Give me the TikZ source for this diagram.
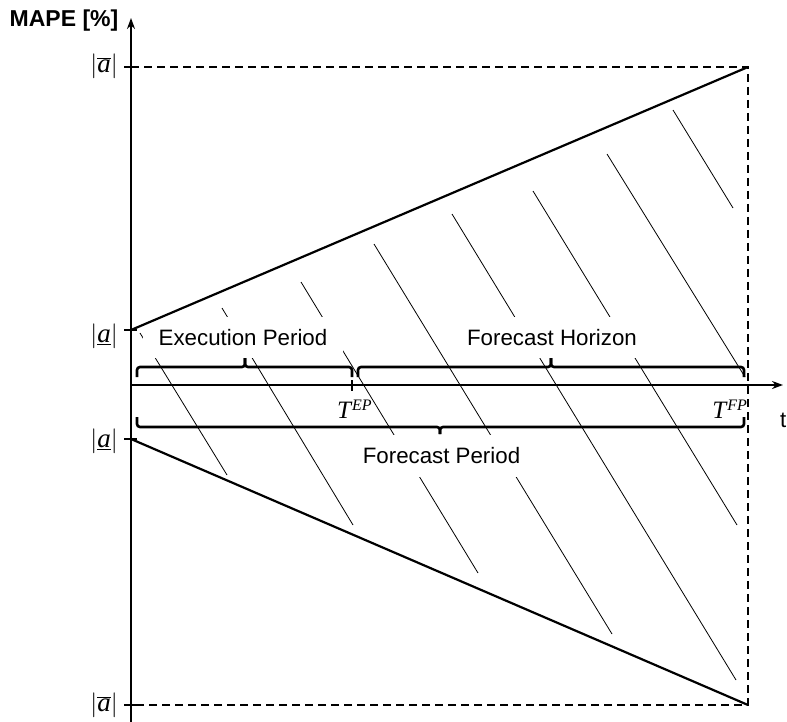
\documentclass[tikz,border=0pt]{standalone}
\usepackage{fontspec}
\setmainfont{Liberation Sans}
\newfontfamily\tms{Liberation Serif}
\usetikzlibrary{arrows.meta}
\begin{document}
\begin{tikzpicture}[x=1pt,y=-1pt,
  hatch/.style={line width=0.8pt},
  mainline/.style={line width=2.2pt},
  axisline/.style={line width=2pt,-{Stealth[length=11pt,width=8pt]}},
  dashline/.style={line width=1.8pt,dash pattern=on 8pt off 5pt},
  bracepath/.style={line width=2.6pt,rounded corners=3pt},
  lbl/.style={font=\fontsize{22.3}{26}\selectfont},
  gapbox/.style={fill=white,inner sep=0pt,lbl},
  mlbl/.style={font=\fontsize{25}{28}\selectfont\tms\itshape},
  albl/.style={font=\fontsize{27}{30}\selectfont\tms\itshape},
  tickmark/.style={line width=2.5pt}
]
\useasboundingbox (0,0) rectangle (787,722);
% hatch lines
\draw[hatch] (140,333) -- (227,475);
\draw[hatch] (222,308) -- (353,525);
\draw[hatch] (301,282) -- (478,573);
\draw[hatch] (374,244) -- (612,634);
\draw[hatch] (452,214) -- (736,680);
\draw[hatch] (533,191) -- (737,525);
\draw[hatch] (607,154) -- (745,377);
\draw[hatch] (673,110) -- (733,208);
% text boxes (white) interrupting hatch
\node[gapbox, minimum width=200pt, minimum height=41pt] (ep) at (243,337.5) {Execution Period};
\node[gapbox, minimum width=214pt, minimum height=41pt] (fh) at (552,337.5) {Forecast Horizon};
\node[gapbox, minimum width=200pt, minimum height=42pt] (fp) at (441.5,455.5) {Forecast Period};
% main lines
\draw[mainline] (131,330) -- (748,67);
\draw[mainline] (131,439) -- (748,705);
% dashed frame
\draw[dashline] (131,67) -- (748,67) -- (748,705) -- (131,705);
% axes
\draw[axisline] (131,722) -- (131,18);
\draw[axisline] (131,385) -- (783,385);
% ticks
\foreach \yy in {67,330,439,705} \draw[tickmark] (124,\yy) -- (137,\yy);
\draw[line width=1.5pt] (352,380) -- (352,391);
% braces
\draw[bracepath] (137,377) -- (137,367) -- (245,367) -- (245,358);
\draw[bracepath] (245,358) -- (245,367) -- (352,367) -- (352,377);
\draw[bracepath] (358,377) -- (358,367) -- (551,367) -- (551,358);
\draw[bracepath] (551,358) -- (551,367) -- (744,367) -- (744,377);
\draw[bracepath] (137,417) -- (137,427) -- (440,427) -- (440,434);
\draw[bracepath] (440,434) -- (440,427) -- (744,427) -- (744,417);
% labels
\node[font=\fontsize{23}{27}\selectfont\bfseries] (mape) at (64,21) {MAPE [\%]};
\node[albl] (amaxtop) at (104,66) {$\left|\overline{\hbox{a}}\right|$};
\node[albl] (amintop) at (104,336) {$\left|\underline{\hbox{a}}\right|$};
\node[albl] (aminbot) at (104,441) {$\left|\underline{\hbox{a}}\right|$};
\node[albl] (amaxbot) at (104,705) {$\left|\overline{\hbox{a}}\right|$};
\node[mlbl, anchor=base west, inner sep=0pt] (tep) at (337,418) {T\kern1pt\raisebox{8pt}{\fontsize{16}{18}\selectfont EP}};
\node[mlbl, anchor=base east, inner sep=0pt] (tfp) at (747,418) {T\kern1pt\raisebox{8pt}{\fontsize{16}{18}\selectfont FP}};
\node[lbl, anchor=west, inner sep=0pt] (tlab) at (780,420) {t};
\end{tikzpicture}
\end{document}
